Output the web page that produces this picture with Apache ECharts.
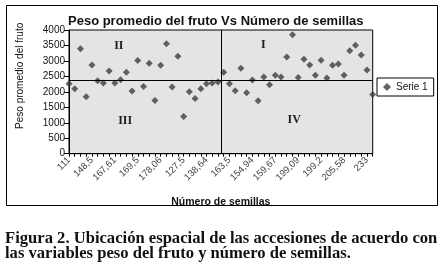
<!DOCTYPE html>
<html>
<head>
<meta charset="utf-8">
<script src="https://cdn.jsdelivr.net/npm/echarts/dist/echarts.min.js"></script>
<style>
html,body{margin:0;padding:0;background:#fff;}
#c{width:448px;height:269px;}
</style>
</head>
<body>
<div id="c"></div>
<script>
// Tick labels shown every 4th accession (index 0,4,...,52)
const tickLabels = ['111','148,5','167,61','169,5','178,06','127,5','138,64','163,5','154,94','159,67','199,09','199,2','205,58','233'];
// Peso promedio del fruto for each of the 54 accessions (in axis order)
const pesoValues = [2263,2101,3390,1841,2870,2361,2286,2676,2286,2393,2630,2026,3010,2175,2922,1721,2857,3555,2156,3150,
  1201,2003,1786,2101,2263,2286,2318,2630,2263,2036,2760,1971,2383,1711,2481,2231,2533,2481,3130,3844,
  2468,3052,2870,2533,3020,2448,2857,2903,2533,3325,3507,3195,2708,1916];
const meanPeso = 2380;      // horizontal reference line
const midSemillas = 26.6;   // vertical reference line (axis position)
const quadrants = [
  {name:'II', x:8.7, y:3500},
  {name:'I', x:33.9, y:3530},
  {name:'III', x:9.8, y:1060},
  {name:'IV', x:39.3, y:1090}
];
const seriesName = 'Serie 1';

const chart = echarts.init(document.getElementById('c'), null, {renderer:'canvas'});
const sans = '"Liberation Sans", Arial, sans-serif';
const serif = '"Liberation Serif", "Times New Roman", serif';
chart.setOption({
  animation:false,
  backgroundColor:'#fff',
  title:{
    text:'Peso promedio del fruto Vs Número de semillas',
    left:63, top:10,
    textStyle:{fontFamily:sans, fontWeight:'bold', fontSize:13, color:'#111'}
  },
  legend:{
    data:[seriesName],
    left:377, top:78,
    orient:'vertical',
    borderColor:'#000', borderWidth:1, borderRadius:0,
    backgroundColor:'#fff',
    padding:[4,6,4,6],
    itemWidth:8, itemHeight:8, itemGap:4,
    icon:'diamond',
    textStyle:{fontFamily:sans, fontSize:10, color:'#111'}
  },
  grid:{
    left:69, right:75.3, top:30, bottom:115.3,
    show:true, backgroundColor:'#e4e4e4', borderColor:'#000', borderWidth:1,
    containLabel:false
  },
  xAxis:{
    type:'value', min:0, max:pesoValues.length-1, interval:1,
    name:'Número de semillas', nameLocation:'middle', nameGap:43,
    nameTextStyle:{fontFamily:sans, fontWeight:'bold', fontSize:10.5, color:'#111'},
    axisLine:{show:true, lineStyle:{color:'#000', width:1}},
    axisTick:{show:true, length:3, lineStyle:{color:'#000'}},
    splitLine:{show:false},
    axisLabel:{
      rotate:45, fontFamily:sans, fontSize:9.5, color:'#444', margin:5,
      showMinLabel:true, showMaxLabel:true, hideOverlap:false,
      formatter:function(v){ return (v%4===0 && tickLabels[v/4]!==undefined) ? tickLabels[v/4] : ''; }
    }
  },
  yAxis:{
    type:'value', min:0, max:4000, interval:500,
    name:'Peso promedio del fruto', nameLocation:'middle', nameGap:44,
    nameTextStyle:{fontFamily:sans, fontSize:10, color:'#111', padding:[0,0,0,32]},
    axisLine:{show:true, lineStyle:{color:'#000', width:1}},
    axisTick:{show:true, length:5, lineStyle:{color:'#000'}},
    splitLine:{show:false},
    axisLabel:{fontFamily:sans, fontSize:10, color:'#111', margin:4, formatter:function(v){return String(v);}}
  },
  series:[{
    name:seriesName,
    type:'scatter',
    symbol:'diamond',
    symbolSize:7,
    itemStyle:{color:'#3d3d3d'},
    data:pesoValues.map((v,i)=>[i,v]),
    markLine:{
      silent:true, symbol:['none','none'],
      label:{show:false},
      lineStyle:{color:'#000', width:1, type:'solid'},
      data:[{yAxis:meanPeso},{xAxis:midSemillas}]
    },
    markPoint:{
      silent:true,
      symbol:'rect', symbolSize:1,
      itemStyle:{color:'rgba(0,0,0,0)'},
      label:{show:true, position:'inside', formatter:'{b}', fontFamily:serif, fontWeight:'bold', fontSize:12, color:'#222'},
      data:quadrants.map(q=>({name:q.name, coord:[q.x,q.y]}))
    }
  }],
  graphic:[
    {type:'rect', shape:{x:6.5,y:5.5,width:431,height:200}, style:{fill:'none', stroke:'#000', lineWidth:1}, silent:true, z:-1},
    {type:'text', left:5, top:230, style:{text:'Figura 2. Ubicación espacial de las accesiones de acuerdo con', font:'bold 16.6px '+serif, fill:'#111'}},
    {type:'text', left:5, top:245, style:{text:'las variables peso del fruto y número de semillas.', font:'bold 16.6px '+serif, fill:'#111'}}
  ]
});
</script>
</body>
</html>
